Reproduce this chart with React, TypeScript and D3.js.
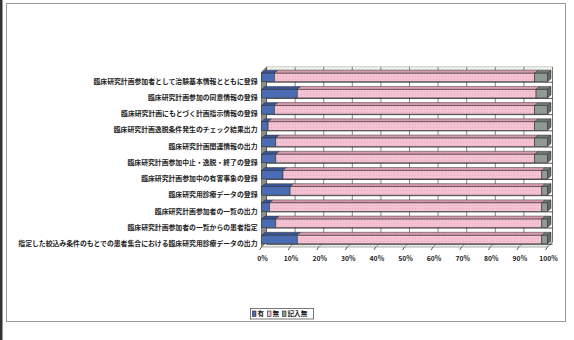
import React from "react";
import * as d3 from "d3";

const categories = [
  "臨床研究計画参加者として治験基本情報とともに登録",
  "臨床研究計画参加の同意情報の登録",
  "臨床研究計画にもとづく計画指示情報の登録",
  "臨床研究計画逸脱条件発生のチェック結果出力",
  "臨床研究計画関連情報の出力",
  "臨床研究計画参加中止・逸脱・終了の登録",
  "臨床研究計画参加中の有害事象の登録",
  "臨床研究用診療データの登録",
  "臨床研究計画参加者の一覧の出力",
  "臨床研究計画参加者の一覧からの患者指定",
  "指定した絞込み条件のもとでの患者集合における臨床研究用診療データの出力",
];
const seriesNames = ["有", "無", "記入無"];
const yesValues = [4.5, 12.5, 4.5, 2.3, 5, 5, 7.5, 10, 2.8, 5, 12.5];
const noValues = [91, 83.5, 91, 93.2, 90.5, 90.5, 90.5, 88, 95.2, 93, 85.5];
const blankValues = [4.5, 4, 4.5, 4.5, 4.5, 4.5, 2, 2, 2, 2, 2];
const tickValues = [0, 10, 20, 30, 40, 50, 60, 70, 80, 90, 100];

const FONT = "'Noto Sans CJK JP', 'Noto Sans', sans-serif";
const frontColors = ["#4a6cb4", "#f3bfd0", "#8f9b92"];
const topColors = ["#3a5596", "#d99aae", "#6f7a72"];

export default function App() {
  const rows = categories.map((c, i) => ({ cat: c, 有: yesValues[i], 無: noValues[i], 記入無: blankValues[i] }));
  const stacked = d3.stack<any>().keys(seriesNames)(rows);

  const x = d3.scaleLinear().domain([0, 100]).range([261.5, 547.5]);
  const y = d3.scaleBand<string>().domain(categories).range([77, 248]).paddingInner(0.45);
  const step = y.step();
  const barH = 8.5;
  const bdx = 3.5, bdy = -3;
  const wdx = 5, wdy = -5;
  const floorY = 247;
  const topY = 67;

  const yc = (c: string) => (y(c) as number) - (step - y.bandwidth()) / 2 + step / 2;

  const poly = (pts: [number, number][]) => pts.map((p) => p.join(",")).join(" ");

  const legendItems = [
    { name: seriesNames[0], x: 252.5, color: frontColors[0] },
    { name: seriesNames[1], x: 267.5, color: frontColors[1] },
    { name: seriesNames[2], x: 282.5, color: frontColors[2] },
  ];

  return (
    <svg width={574} height={340} style={{ position: "absolute", left: 0, top: 0, background: "#fff" }} fontFamily={FONT}>
      <defs>
        <pattern id="hatch" width="4" height="4" patternUnits="userSpaceOnUse">
          <rect width="4" height="4" fill="#f1f4ee" />
          <path d="M0,4 L4,0" stroke="#c9d3c4" strokeWidth="0.6" />
        </pattern>
        <pattern id="pinkTex" width="3" height="3" patternUnits="userSpaceOnUse">
          <rect width="3" height="3" fill="#f4c2d2" />
          <rect x="1" y="1" width="1" height="1" fill="#e7a9bd" />
        </pattern>
      </defs>
      {/* outer frame */}
      <rect x={0} y={0} width={2.5} height={340} fill="#333" />
      <rect x={6.5} y={3.5} width={559} height={318} fill="none" stroke="#9a9a9a" strokeWidth={1} />

      {/* back wall */}
      <rect x={x(0) + wdx} y={topY} width={x(100) - x(0)} height={floorY + wdy - topY} fill="#fff" stroke="#777" strokeWidth={0.6} />
      <rect x={x(0) + wdx} y={topY} width={x(100) - x(0)} height={5} fill="url(#hatch)" />
      {tickValues.map((t) => (
        <line key={"g" + t} x1={x(t) + wdx} x2={x(t) + wdx} y1={topY} y2={floorY + wdy} stroke="#555" strokeWidth={0.7} />
      ))}
      {/* left wall */}
      <polygon
        points={poly([[x(0), topY - wdy], [x(0) + wdx, topY], [x(0) + wdx, floorY + wdy], [x(0), floorY]])}
        fill="#8a8f8a" stroke="#444" strokeWidth={0.6}
      />
      {/* floor */}
      <polygon
        points={poly([[x(0), floorY], [x(0) + wdx, floorY + wdy], [x(100) + wdx, floorY + wdy], [x(100), floorY]])}
        fill="url(#hatch)" stroke="#777" strokeWidth={0.6}
      />
      {tickValues.map((t) => (
        <g key={"f" + t}>
          <line x1={x(t)} y1={floorY} x2={x(t) + wdx} y2={floorY + wdy} stroke="#666" strokeWidth={0.6} />
          <line x1={x(t)} y1={floorY} x2={x(t) - 2} y2={floorY + 3} stroke="#333" strokeWidth={0.8} />
          <text x={x(t) + 1} y={floorY + 14} fontSize={6.8} fontWeight="bold" textAnchor="middle" fill="#222">
            {t + "%"}
          </text>
        </g>
      ))}

      {/* bars */}
      {categories.map((c, i) => {
        const by = yc(c) - 4 - barH / 2;
        return (
          <g key={c}>
            <line x1={x(0) + wdx} x2={x(100) + wdx} y1={by + barH + 0.5} y2={by + barH + 0.5} stroke="#222" strokeWidth={0.8} />
            {stacked.map((s, k) => {
              const d = s[i];
              const x0 = x(d[0]);
              const x1 = x(d[1]);
              return (
                <g key={k}>
                  <polygon
                    points={poly([[x0, by], [x0 + bdx, by + bdy], [x1 + bdx, by + bdy], [x1, by]])}
                    fill={topColors[k]} stroke="#333" strokeWidth={0.5}
                  />
                  <rect x={x0} y={by} width={x1 - x0} height={barH}
                    fill={k === 1 ? "url(#pinkTex)" : frontColors[k]} stroke="#333" strokeWidth={0.6} />
                  {k === 2 && (
                    <polygon
                      points={poly([[x1, by], [x1 + bdx, by + bdy], [x1 + bdx, by + bdy + barH], [x1, by + barH]])}
                      fill="#5f6a62" stroke="#333" strokeWidth={0.5}
                    />
                  )}
                </g>
              );
            })}
          </g>
        );
      })}

      {/* category labels */}
      {categories.map((c) => (
        <text key={"l" + c} x={257.5} y={yc(c)} dy="0.35em" fontSize={6.85} fontWeight="bold" textAnchor="end" fill="#222">
          {c}
        </text>
      ))}

      {/* legend */}
      <rect x={250.5} y={308.5} width={63} height={10.5} fill="#fff" stroke="#555" strokeWidth={0.8} />
      {legendItems.map((it) => (
        <g key={it.name}>
          <rect x={it.x} y={311} width={3.5} height={5.5} fill={it.color} stroke="#222" strokeWidth={0.6} />
          <text x={it.x + 5} y={314} dy="0.35em" fontSize={6.6} fontWeight="bold" fill="#222">
            {it.name}
          </text>
        </g>
      ))}
    </svg>
  );
}
